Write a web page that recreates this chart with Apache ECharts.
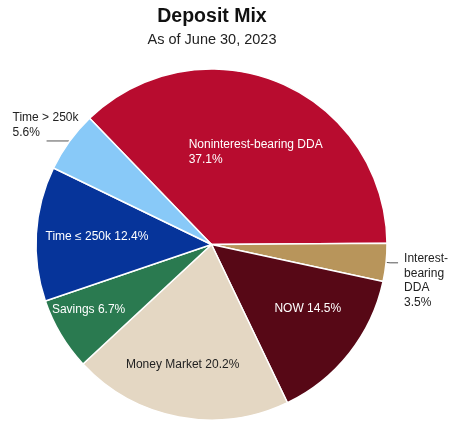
<!DOCTYPE html>
<html>
<head>
<meta charset="utf-8">
<title>Deposit Mix</title>
<script src="https://cdn.jsdelivr.net/npm/echarts@6/dist/echarts.min.js"></script>
<style>
	html, body { margin: 0; padding: 0; background: #fff; }
	#main { width: 449px; height: 421px; }
</style>
</head>
<body>
<div id="main"></div>
<script>
// deposit categories, clockwise from the upper left
var categories = ['Noninterest-bearing DDA', 'Interest-bearing DDA', 'NOW', 'Money Market', 'Savings', 'Time \u2264 250k', 'Time > 250k'];
var shares = [37.1, 3.5, 14.5, 20.2, 6.7, 12.4, 5.6];
var labelTexts = ['Noninterest-bearing DDA\n37.1%', 'Interest-\nbearing\nDDA\n3.5%', 'NOW 14.5%', 'Money Market 20.2%', 'Savings 6.7%', 'Time \u2264 250k 12.4%', 'Time > 250k\n5.6%'];
var colors = ['#b80c2f', '#b8955b', '#570816', '#e4d7c3', '#2a7a50', '#06349a', '#88c9f8'];

// slices whose label sits outside with a leader line
var outside = { 'Interest-bearing DDA': true, 'Time > 250k': true };
// nudges for the label text (dx, dy, align)
var nudges = [[-58, -9, 'left'], [0, 18, null], [25, 8, null], [-12, 31, null], [-45, 19, null], [-24, -2, null], [-28, -16, 'left']];

var myChart = echarts.init(document.getElementById('main'));

var data = [];
for (var i = 0; i < categories.length; i++) {
	var isOut = !!outside[categories[i]];
	var isDark = categories[i] == 'Money Market';
	data.push({
		name: categories[i],
		value: shares[i],
		itemStyle: { color: colors[i] },
		label: {
			show: true,
			position: isOut ? 'outside' : 'inside',
			formatter: labelTexts[i],
			color: isOut || isDark ? '#222' : '#fff',
			fontSize: 12,
			lineHeight: isOut ? 14.5 : 15
		},
		labelLine: {
			show: isOut,
			length: categories[i] == 'Time > 250k' ? 1 : 4,
			length2: categories[i] == 'Time > 250k' ? 22 : 8,
			lineStyle: { color: '#555', width: 1 }
		}
	});
}

var option = {
	backgroundColor: '#fff',
	animation: false,
	textStyle: { fontFamily: 'Liberation Sans, Arial, sans-serif' },
	title: {
		text: 'Deposit Mix',
		subtext: 'As of June 30, 2023',
		left: 212,
		top: 7,
		textAlign: 'center',
		itemGap: 5,
		padding: 0,
		textStyle: { fontSize: 19.5, fontWeight: 'bold', color: '#111', fontFamily: 'Liberation Sans, Arial, sans-serif' },
		subtextStyle: { fontSize: 14.5, color: '#222', fontFamily: 'Liberation Sans, Arial, sans-serif' }
	},
	series: [
		{
			type: 'pie',
			center: [211.5, 244.5],
			radius: [0, 175.5],
			startAngle: 134,
			clockwise: true,
			avoidLabelOverlap: false,
			itemStyle: { borderColor: '#fff', borderWidth: 1.5 },
			label: { distanceToLabelLine: 6 },
			emphasis: { disabled: true },
			labelLayout: function (params) {
				var n = nudges[params.dataIndex];
				var out = { dx: n[0], dy: n[1], labelLinePoints: params.labelLinePoints };
				if (n[2]) {
					out.align = n[2];
				}
				return out;
			},
			data: data
		}
	]
};

myChart.setOption(option);
</script>
</body>
</html>
